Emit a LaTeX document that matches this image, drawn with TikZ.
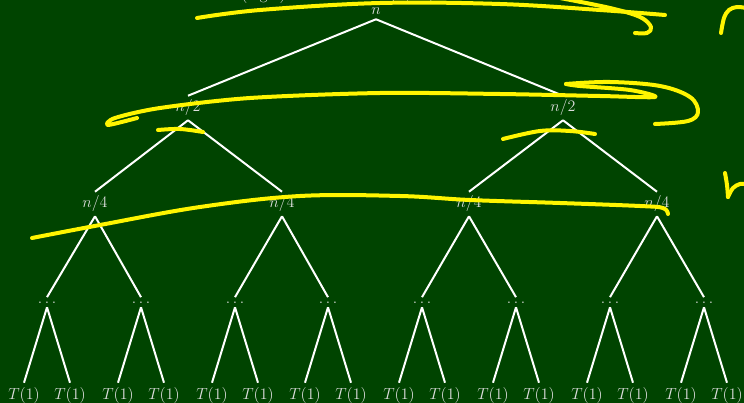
\documentclass[tikz,border=0pt]{standalone}
\definecolor{bg}{RGB}{0,68,0}
\definecolor{labc}{RGB}{222,222,222}
\definecolor{hly}{RGB}{255,245,0}
\begin{document}
\begin{tikzpicture}[x=0.75pt,y=-0.75pt,
  lab/.style={text=labc, font=\fontsize{12}{14}\selectfont, inner sep=3pt, anchor=base},
  edge/.style={draw=white, line width=1.5pt},
  hl/.style={draw=hly, line width=3pt, line cap=round, line join=round}]
\fill[bg] (0,0) rectangle (744,403);
\useasboundingbox (0,0) rectangle (744,403);
% top text (cut off by the frame)
\node[lab, anchor=base west, inner sep=0pt] (t1) at (241,0) {$(\log n)$};
\node[lab, anchor=base west, inner sep=0pt] (t2) at (390,0) {$(n/2^k)$};
% tree
\node[lab] (r) at (376,15) {$n$};
\node[lab] (a1) at (188,112) {$n/2$};
\node[lab] (a2) at (563,112) {$n/2$};
\foreach \i/\x in {1/95,2/282,3/469,4/657}{\node[lab] (b\i) at (\x,208) {$n/4$};}
\foreach \i/\x in {1/47,2/141,3/235,4/328,5/422,6/516,7/610,8/704}{
  \node[lab] (c\i) at (\x,303) {$\ldots$};
  \node[lab] (dl\i) at (\x-23,399) {$T(1)$};
  \node[lab] (dr\i) at (\x+23,399) {$T(1)$};
  \draw[edge] (c\i.south) -- (dl\i.north);
  \draw[edge] (c\i.south) -- (dr\i.north);
}
\draw[edge] (r.south) -- (a1.north);
\draw[edge] (r.south) -- (a2.north);
\draw[edge] (a1.south) -- (b1.north);
\draw[edge] (a1.south) -- (b2.north);
\draw[edge] (a2.south) -- (b3.north);
\draw[edge] (a2.south) -- (b4.north);
\draw[edge] (b1.south) -- (c1.north);
\draw[edge] (b1.south) -- (c2.north);
\draw[edge] (b2.south) -- (c3.north);
\draw[edge] (b2.south) -- (c4.north);
\draw[edge] (b3.south) -- (c5.north);
\draw[edge] (b3.south) -- (c6.north);
\draw[edge] (b4.south) -- (c7.north);
\draw[edge] (b4.south) -- (c8.north);
% yellow handwriting
\draw[hl] plot[smooth, tension=0.6] coordinates {(197,18) (260,10) (380,3) (500,4) (600,10) (665,15)};
\draw[hl] plot[smooth, tension=0.6] coordinates {(560,-2) (610,8) (640,17) (651,27) (647,33) (635,33)};
\draw[hl] plot[smooth, tension=0.5] coordinates {(137,118) (108,125) (115,118) (160,108) (250,98) (380,93) (500,94) (600,96) (655,97) (630,90) (580,86) (566,84)};
\draw[hl] plot[smooth, tension=0.6] coordinates {(566,84) (610,82) (660,86) (690,97) (698,112) (688,121) (655,124)};
\draw[hl] plot[smooth, tension=0.6] coordinates {(158,130) (180,129) (203,132)};
\draw[hl] plot[smooth, tension=0.6] coordinates {(503,139) (540,131) (570,131) (595,134)};
\draw[hl] plot[smooth, tension=0.6] coordinates {(32,238) (100,225) (200,207) (300,196) (400,196) (470,200) (560,203) (640,206) (663,208) (668,214)};
\draw[hl] plot[smooth, tension=0.6] coordinates {(721,33) (724,18) (729,10) (737,7) (746,8)};
\draw[hl] plot[smooth, tension=0.6] coordinates {(725,173) (727,185) (728,197)};
\draw[hl] plot[smooth, tension=0.6] coordinates {(728,197) (733,188) (740,184) (746,184)};
\end{tikzpicture}
\end{document}
